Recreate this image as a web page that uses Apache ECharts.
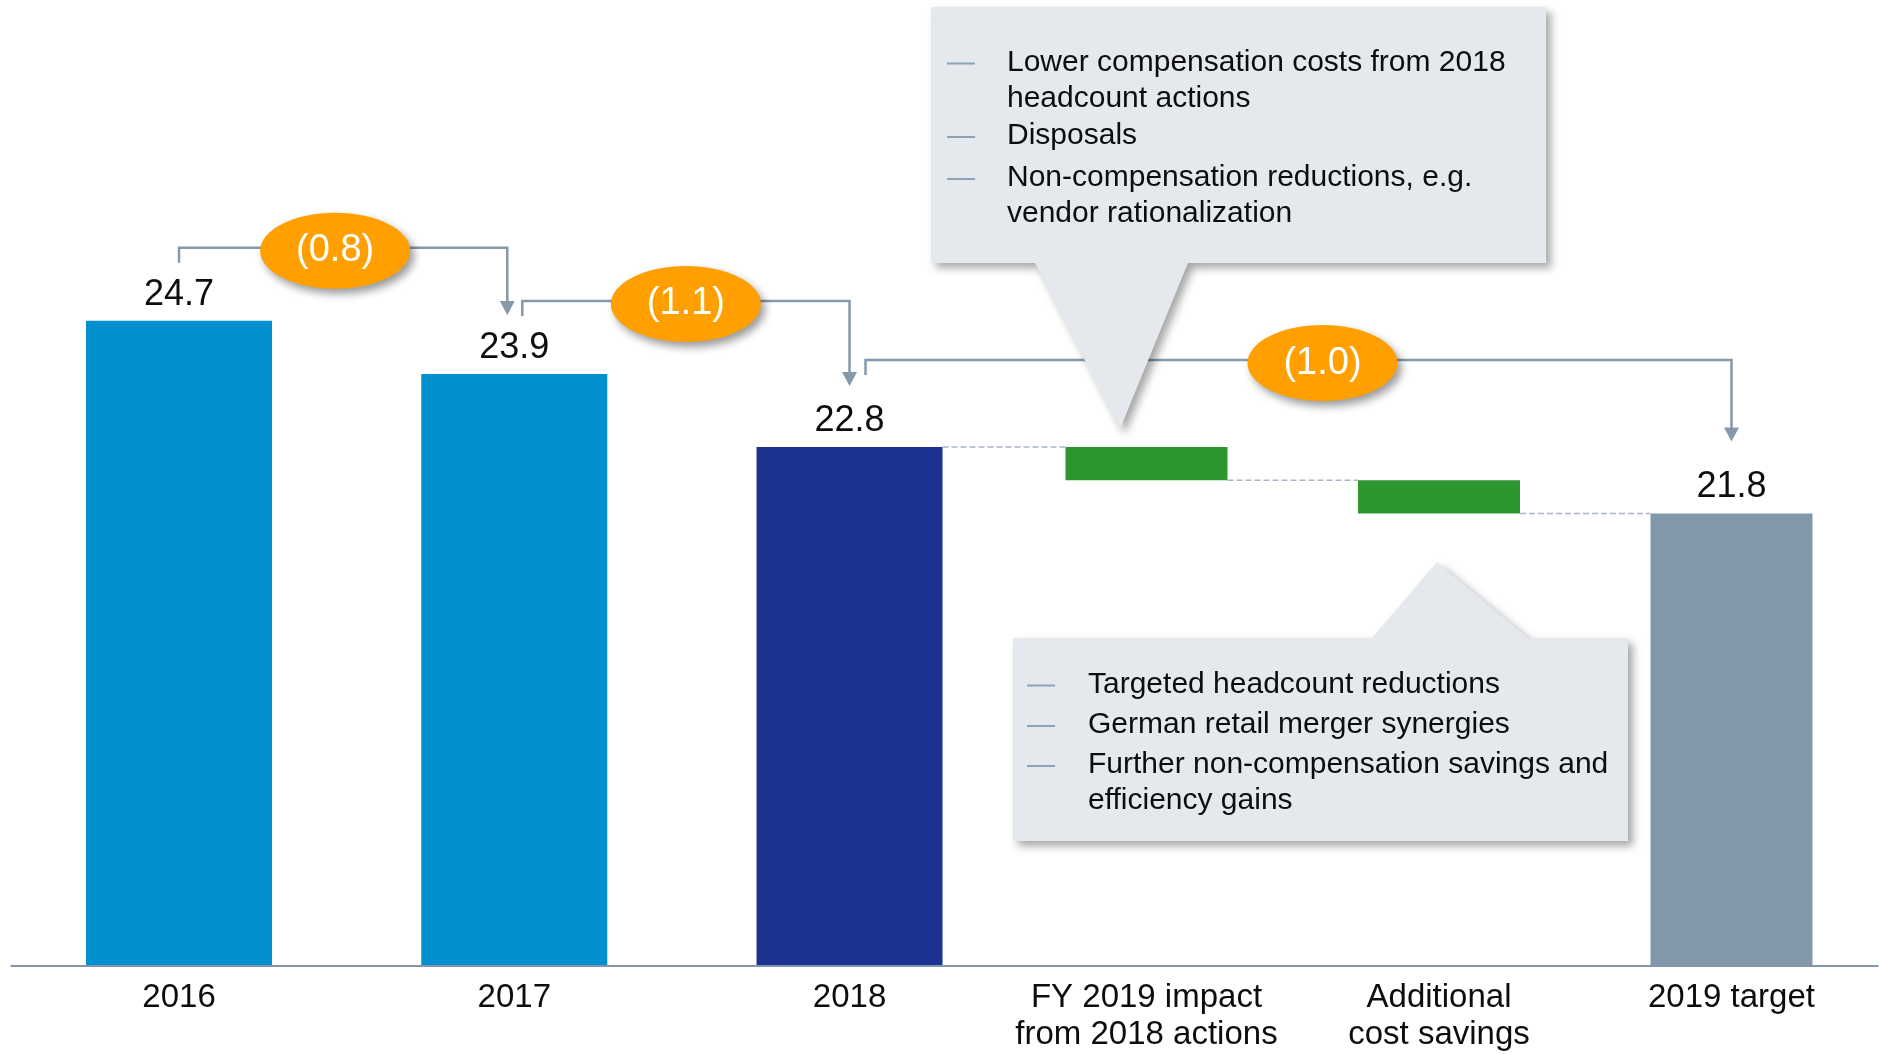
<!DOCTYPE html>
<html>
<head>
<meta charset="utf-8">
<title>Adjusted costs</title>
<script src="https://cdn.jsdelivr.net/npm/echarts@6/dist/echarts.min.js"></script>
<style>
  html, body { margin: 0; padding: 0; background: #fff; }
  #main { width: 1881px; height: 1054px; }
</style>
</head>
<body>
<div id="main"></div>
<script>
// adjusted costs, EUR bn
var histCats = ['2016', '2017', '2018'];
var histValues = [24.7, 23.9, 22.8];
var stepCats = ['FY 2019 impact\nfrom 2018 actions', 'Additional\ncost savings'];
var stepValues = [-0.5, -0.5];
var targetCat = '2019 target';
var targetValue = 21.8;

var noteTop = [
  ['Lower compensation costs from 2018', 'headcount actions'],
  ['Disposals'],
  ['Non-compensation reductions, e.g.', 'vendor rationalization']
];
var noteBottom = [
  ['Targeted headcount reductions'],
  ['German retail merger synergies'],
  ['Further non-compensation savings and', 'efficiency gains']
];

var FONT = "'Liberation Sans', Arial, sans-serif";
var histColors = ['#0090cf', '#0090cf', '#1b3291'];
var GREEN = '#2e962f';
var GREY = '#8297aa';
var LINE = '#8698ac';
var TEXT = '#0d0d0d';

function r1(v) { return Math.round(v * 10) / 10; }

// waterfall: invisible spacer + visible step, target stacked from the bottom
var spacer = [], steps = [];
var levels = [histValues[histValues.length - 1]];
var run = levels[0];
stepValues.forEach(function (d) {
  var next = r1(run + d);
  spacer.push(Math.min(run, next));
  steps.push({ value: Math.abs(d), itemStyle: { color: GREEN } });
  levels.push(next);
  run = next;
});
spacer.push(0);
steps.push({ value: targetValue, itemStyle: { color: GREY }, label: { show: true } });

var axisLook = {
  axisLine: { onZero: false, lineStyle: { color: '#8396aa', width: 2 } },
  axisTick: { show: false },
  axisLabel: { interval: 0, fontSize: 33, lineHeight: 37, margin: 14, color: TEXT, fontFamily: FONT },
  z: 5
};

function valueLabel(show) {
  return {
    show: show, position: 'top', distance: 8, fontSize: 36, color: TEXT, fontFamily: FONT,
    formatter: function (p) { return Number(p.value).toFixed(1); }
  };
}

var chart = echarts.init(document.getElementById('main'));

chart.setOption({
  animation: false,
  backgroundColor: '#fff',
  textStyle: { fontFamily: FONT },
  grid: [
    { left: 11.4, top: 101.4, width: 1005.75, height: 864.1 },
    { left: 1000.25, top: 101.4, width: 877.5, height: 864.1 }
  ],
  xAxis: [
    Object.assign({ type: 'category', gridIndex: 0, data: histCats }, axisLook),
    Object.assign({ type: 'category', gridIndex: 1, data: stepCats.concat(targetCat) }, axisLook)
  ],
  yAxis: [
    { type: 'value', gridIndex: 0, min: 15, max: 28, show: false },
    { type: 'value', gridIndex: 1, min: 15, max: 28, show: false }
  ],
  series: [
    {
      type: 'bar', xAxisIndex: 0, yAxisIndex: 0, barWidth: 186,
      data: histValues.map(function (v, i) { return { value: v, itemStyle: { color: histColors[i] } }; }),
      label: valueLabel(true)
    },
    {
      type: 'bar', xAxisIndex: 1, yAxisIndex: 1, stack: 'wf', barWidth: 162, silent: true,
      data: spacer, itemStyle: { color: 'rgba(0,0,0,0)' }
    },
    {
      type: 'bar', xAxisIndex: 1, yAxisIndex: 1, stack: 'wf', barWidth: 162,
      data: steps, label: valueLabel(false)
    }
  ]
});

function pt(grid, idx, val) {
  return chart.convertToPixel({ gridIndex: grid }, [idx, val]);
}

var g = [];

// dashed connectors between the waterfall steps
var nodes = [
  { grid: 0, idx: histCats.length - 1, half: 93 },
  { grid: 1, idx: 0, half: 81 },
  { grid: 1, idx: 1, half: 81 },
  { grid: 1, idx: stepCats.length, half: 81 }
];
for (var k = 0; k < levels.length; k++) {
  var a = pt(nodes[k].grid, nodes[k].idx, levels[k]);
  var b = pt(nodes[k + 1].grid, nodes[k + 1].idx, levels[k]);
  g.push({
    type: 'line', z: 4,
    shape: { x1: a[0] + nodes[k].half, y1: a[1], x2: b[0] - nodes[k + 1].half, y2: b[1] },
    style: { stroke: '#a9b5c4', lineWidth: 1.5, lineDash: [6, 3] }
  });
}

// brackets with change bubbles
var anchors = [
  { grid: 0, idx: 0, v: histValues[0] },
  { grid: 0, idx: 1, v: histValues[1] },
  { grid: 0, idx: 2, v: histValues[2] },
  { grid: 1, idx: stepCats.length, v: targetValue }
];
var bracketLook = [
  { startDx: 0, endDx: -7, leg: 58, gap: 59, labelDx: -8 },
  { startDx: 8, endDx: 0, leg: 58, gap: 61, labelDx: 0 },
  { startDx: 16, endDx: 0, leg: 72, gap: 72, labelDx: 24 }
];
bracketLook.forEach(function (s, i) {
  var pa = pt(anchors[i].grid, anchors[i].idx, anchors[i].v);
  var pb = pt(anchors[i + 1].grid, anchors[i + 1].idx, anchors[i + 1].v);
  var sx = pa[0] + s.startDx, ex = pb[0] + s.endDx;
  var legBottom = pa[1] - s.leg;
  var lineY = legBottom - 15;
  var tip = pb[1] - s.gap;
  g.push({
    type: 'polyline', z: 10,
    shape: { points: [[sx, legBottom], [sx, lineY], [ex, lineY], [ex, tip - 12]] },
    style: { stroke: LINE, lineWidth: 2.5, fill: null }
  });
  g.push({
    type: 'polygon', z: 10,
    shape: { points: [[ex - 7.5, tip - 14], [ex + 7.5, tip - 14], [ex, tip]] },
    style: { fill: LINE }
  });
  var cx = (sx + ex) / 2 + s.labelDx, cy = lineY + 3;
  g.push({
    type: 'ellipse', z: 20,
    shape: { cx: cx, cy: cy, rx: 75, ry: 38 },
    style: { fill: '#ffa000', shadowBlur: 8, shadowColor: 'rgba(0,0,0,0.4)', shadowOffsetX: 4, shadowOffsetY: 5 }
  });
  g.push({
    type: 'text', z: 21, x: cx, y: cy,
    style: {
      text: '(' + r1(anchors[i].v - anchors[i + 1].v).toFixed(1) + ')',
      fontSize: 38, fontFamily: FONT, fill: '#fff', align: 'center', verticalAlign: 'middle'
    }
  });
});

// callout boxes
var boxStyle = { fill: '#e5e8ed', shadowBlur: 9, shadowColor: 'rgba(0,0,0,0.35)', shadowOffsetX: 5, shadowOffsetY: 5 };
g.push({
  type: 'polygon', z: 30,
  shape: { points: [[931, 7], [1546, 7], [1546, 263], [1188, 263], [1120, 429], [1035, 263], [931, 263]] },
  style: boxStyle
});
g.push({
  type: 'polygon', z: 30,
  shape: { points: [[1013, 638], [1372, 638], [1437, 562], [1528, 638], [1628, 638], [1628, 841], [1013, 841]] },
  style: boxStyle
});

function addNote(items, textX, dashX, ys) {
  items.forEach(function (lines, i) {
    g.push({
      type: 'line', z: 31,
      shape: { x1: dashX, y1: ys[i] + 1, x2: dashX + 28, y2: ys[i] + 1 },
      style: { stroke: '#8ea1b5', lineWidth: 2 }
    });
    lines.forEach(function (t, j) {
      g.push({
        type: 'text', z: 31, x: textX, y: ys[i] + j * 36,
        style: { text: t, fontSize: 30, fontFamily: FONT, fill: TEXT, align: 'left', verticalAlign: 'middle' }
      });
    });
  });
}
addNote(noteTop, 1007, 947, [62.5, 136, 178]);
addNote(noteBottom, 1088, 1027, [684.5, 725, 765]);

chart.setOption({ graphic: g });
</script>
</body>
</html>
